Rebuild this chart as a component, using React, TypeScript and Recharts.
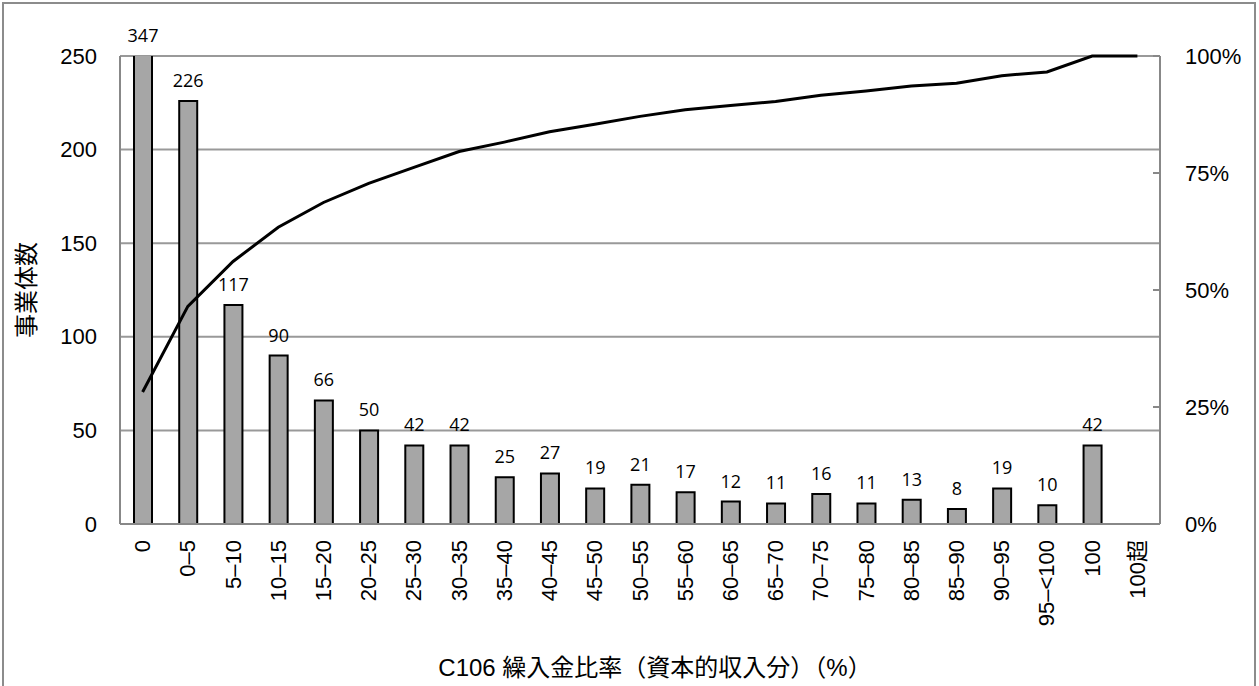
import React from 'react';
import { ComposedChart, Bar, Line, XAxis, YAxis, CartesianGrid, LabelList } from 'recharts';

const categories = ['0', '0–5', '5–10', '10–15', '15–20', '20–25', '25–30', '30–35', '35–40', '40–45', '45–50', '50–55', '55–60', '60–65', '65–70', '70–75', '75–80', '80–85', '85–90', '90–95', '95–<100', '100', '100超'];
const counts = [347, 226, 117, 90, 66, 50, 42, 42, 25, 27, 19, 21, 17, 12, 11, 16, 11, 13, 8, 19, 10, 42, 0];
const cumulativePct = [28.2, 46.5, 56.1, 63.4, 68.7, 72.8, 76.2, 79.6, 81.6, 83.8, 85.4, 87.1, 88.5, 89.4, 90.3, 91.6, 92.5, 93.6, 94.2, 95.8, 96.6, 100, 100];
const leftTicks = [0, 50, 100, 150, 200, 250];
const rightTicks = [0, 25, 50, 75, 100];

const data = categories.map((c, i) => ({ cat: c, count: counts[i], cum: cumulativePct[i] }));

const W = 1259;
const H = 686;
const PLOT_TOP = 56;
const AXIS_FONT = '"Liberation Sans", Arial, sans-serif';
const LABEL_FONT = '"Open Sans", "Noto Sans", sans-serif';
const CJK_FONT = '"Liberation Sans", "Noto Sans CJK JP", sans-serif';

const XTick = (props: any) => {
  const { x, y, payload } = props;
  const ty = y + 16;
  return (
    <text x={x} y={ty} transform={`rotate(-90 ${x} ${ty})`} textAnchor="end" dominantBaseline="central" fontSize={22} fontFamily={CJK_FONT} fill="#000">
      {payload.value}
    </text>
  );
};

const LeftTick = (props: any) => {
  const { x, y, payload } = props;
  return (
    <text x={x - 23} y={y} textAnchor="end" dominantBaseline="central" fontSize={22} fontFamily={AXIS_FONT} fill="#000">
      {payload.value}
    </text>
  );
};

const RightTick = (props: any) => {
  const { x, y, payload } = props;
  return (
    <g>
      <line x1={x - 7} x2={x} y1={y} y2={y} stroke="#888" strokeWidth={2} />
      <text x={x + 25} y={y} textAnchor="start" dominantBaseline="central" fontSize={22} fontFamily={AXIS_FONT} fill="#000">
        {payload.value + '%'}
      </text>
    </g>
  );
};

const BarLabel = (props: any) => {
  const { x, y, width, value } = props;
  const top = Math.max(y, PLOT_TOP);
  return (
    <text x={x + width / 2} y={top - 21} textAnchor="middle" dominantBaseline="central" fontSize={18} fontFamily={LABEL_FONT} fill="#000">
      {value}
    </text>
  );
};

export default function App() {
  return (
    <div style={{ position: 'fixed', left: 0, top: 0, width: W, height: H, overflow: 'hidden', background: '#fff' }}>
      <div style={{ position: 'absolute', left: 2, top: 2, width: 1254, height: 720, border: '2px solid #8c8c8c', boxSizing: 'border-box' }} />
      <div style={{ position: 'absolute', left: 0, top: 0 }}>
        <ComposedChart width={W} height={H} data={data} margin={{ top: PLOT_TOP, right: 39, bottom: 52, left: 0 }}>
          <CartesianGrid yAxisId="left" vertical={false} stroke="#999" strokeWidth={2} />
          <XAxis dataKey="cat" interval={0} tickLine={false} tickSize={0} tickMargin={0} height={110} axisLine={{ stroke: '#888', strokeWidth: 2 }} tick={<XTick />} />
          <YAxis yAxisId="left" width={120} domain={[0, 250]} ticks={leftTicks} allowDataOverflow tickLine={false} tickSize={0} tickMargin={0} axisLine={{ stroke: '#888', strokeWidth: 2 }} tick={<LeftTick />} />
          <YAxis yAxisId="right" orientation="right" width={60} domain={[0, 100]} ticks={rightTicks} tickLine={false} tickSize={0} tickMargin={0} axisLine={{ stroke: '#888', strokeWidth: 2 }} tick={<RightTick />} />
          <Bar yAxisId="left" dataKey="count" fill="#a6a6a6" stroke="#000" strokeWidth={2} barSize={18} isAnimationActive={false}>
            <LabelList dataKey="count" content={<BarLabel />} />
          </Bar>
          <Line yAxisId="right" dataKey="cum" stroke="#000" strokeWidth={3} dot={false} activeDot={false} isAnimationActive={false} type="linear" />
        </ComposedChart>
      </div>
      <div style={{ position: 'absolute', left: 25, top: 290, transform: 'translate(-50%, -50%) rotate(-90deg)', fontSize: 24, fontFamily: '"Noto Sans CJK JP", sans-serif', whiteSpace: 'nowrap', lineHeight: 1 }}>
        事業体数
      </div>
      <div style={{ position: 'absolute', left: 655, top: 668, transform: 'translate(-50%, -50%)', fontSize: 24, fontFamily: CJK_FONT, whiteSpace: 'nowrap', lineHeight: 1 }}>
        C106 繰入金比率（資本的収入分）（%）
      </div>
    </div>
  );
}
